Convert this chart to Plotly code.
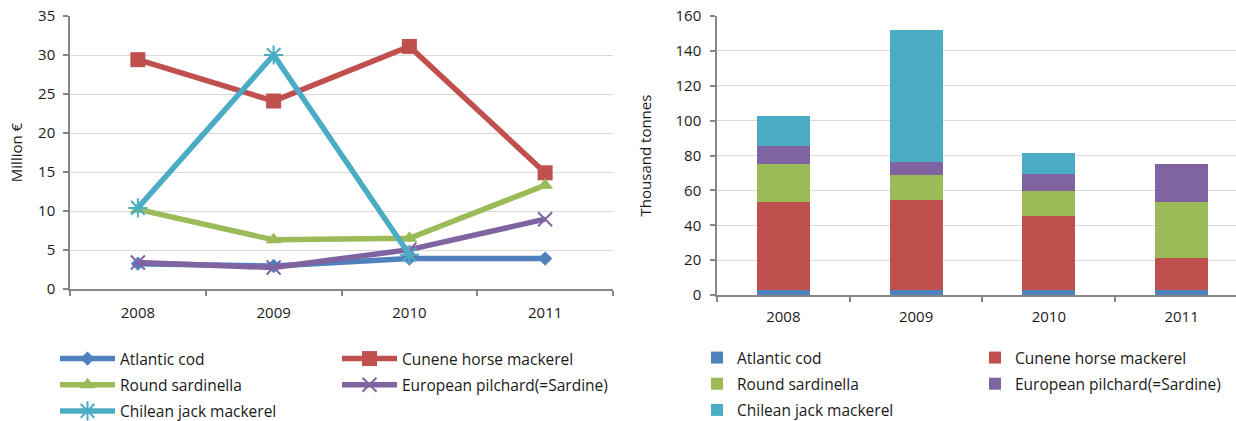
import plotly.graph_objects as go

years = ["2008", "2009", "2010", "2011"]
species = ["Atlantic cod", "Cunene horse mackerel", "Round sardinella",
           "European pilchard(=Sardine)", "Chilean jack mackerel"]

# Left chart: value, Million €
value_cod = [3.25, 2.95, 3.9, 3.9]
value_cunene = [29.4, 24.1, 31.1, 14.9]
value_sardinella = [10.2, 6.3, 6.5, 13.3]
value_pilchard = [3.4, 2.75, 5.05, 8.95]
value_chilean = [10.4, 30.0, 4.4, None]

# Right chart: volume, thousand tonnes
vol_cod = [3.1, 3.0, 3.0, 3.0]
vol_cunene = [50.3, 51.4, 42.4, 18.2]
vol_sardinella = [21.8, 14.3, 14.3, 32.0]
vol_pilchard = [10.0, 7.5, 9.8, 21.8]
vol_chilean = [17.4, 75.8, 12.2, 0.0]

colors = ["#4F81BD", "#C0504D", "#9BBB59", "#8064A2", "#4BACC6"]
symbols = ["diamond", "square", "triangle-up", "x-thin-open", "asterisk-open"]
msizes = [11, 15, 14, 14, 16]

value_series = [value_cod, value_cunene, value_sardinella, value_pilchard, value_chilean]
vol_series = [vol_cod, vol_cunene, vol_sardinella, vol_pilchard, vol_chilean]

FONT = "Open Sans"
TXT = "#1a1a1a"
W, H = 1236, 421

fig = go.Figure()

left_legends = ["legend", "legend2", "legend", "legend2", "legend"]
right_legends = ["legend3", "legend4", "legend3", "legend4", "legend3"]

for i, name in enumerate(species):
    open_sym = symbols[i].endswith("open")
    fig.add_trace(go.Scatter(
        x=years, y=value_series[i], name=name, mode="lines+markers",
        line=dict(color=colors[i], width=5.5),
        marker=dict(symbol=symbols[i], size=msizes[i], color=colors[i],
                    line=dict(color=colors[i], width=2 if open_sym else 0)),
        xaxis="x", yaxis="y", legend=left_legends[i],
        legendgroup="L%d" % i, connectgaps=False,
    ))

for i, name in enumerate(species):
    fig.add_trace(go.Bar(
        x=years, y=vol_series[i], name=name,
        marker=dict(color=colors[i], line=dict(width=0)),
        width=0.4, xaxis="x2", yaxis="y2", legend=right_legends[i],
        legendgroup="R%d" % i,
    ))

axis_common = dict(
    showline=True, linecolor="#868686", linewidth=1.5,
    ticks="outside", ticklen=5, tickcolor="#868686", tickwidth=1.5,
    tickfont=dict(family=FONT, size=15, color=TXT),
    zeroline=False,
)

fig.update_layout(
    width=W, height=H,
    margin=dict(l=0, r=0, t=0, b=0, autoexpand=False),
    paper_bgcolor="white", plot_bgcolor="white",
    barmode="stack",
    showlegend=True,
    xaxis=dict(domain=[70 / W, 613 / W], type="category", range=[-0.5, 3.5],
               tickson="boundaries", showgrid=False, anchor="y",
               ticklabelstandoff=9, **axis_common),
    yaxis=dict(domain=[1 - 289 / H, 1 - 16 / H], range=[0, 35], dtick=5,
               showgrid=True, gridcolor="#D9D9D9", gridwidth=1, anchor="x",
               ticklabelstandoff=5,
               title=dict(text="Million €", standoff=12,
                          font=dict(family=FONT, size=15, color=TXT)),
               **axis_common),
    xaxis2=dict(domain=[717 / W, 1.0], type="category", range=[-0.5, 3.41],
                tickson="boundaries", showgrid=False, anchor="y2",
                ticklabelstandoff=7, **axis_common),
    yaxis2=dict(domain=[1 - 295 / H, 1 - 16 / H], range=[0, 160], dtick=20,
                showgrid=True, gridcolor="#D9D9D9", gridwidth=1, anchor="x2",
                ticklabelstandoff=6,
                title=dict(text="Thousand tonnes", standoff=20,
                           font=dict(family=FONT, size=15, color=TXT)),
                **axis_common),
)

leg_common = dict(orientation="v", bgcolor="rgba(0,0,0,0)", borderwidth=0,
                  font=dict(family=FONT, size=15.5, color=TXT),
                  tracegroupgap=3, xanchor="left", yanchor="top")

fig.update_layout(
    legend=dict(x=55 / W, y=1 - 342 / H, itemwidth=55, **leg_common),
    legend2=dict(x=337 / W, y=1 - 342 / H, itemwidth=55, **leg_common),
    legend3=dict(x=697 / W, y=1 - 341 / H, itemwidth=30, **leg_common),
    legend4=dict(x=975 / W, y=1 - 341 / H, itemwidth=30, **leg_common),
)

fig.write_html("out.html",
               config={"displayModeBar": False},
               post_script="document.body.style.margin='0';"
                           "document.body.style.overflow='hidden';")
